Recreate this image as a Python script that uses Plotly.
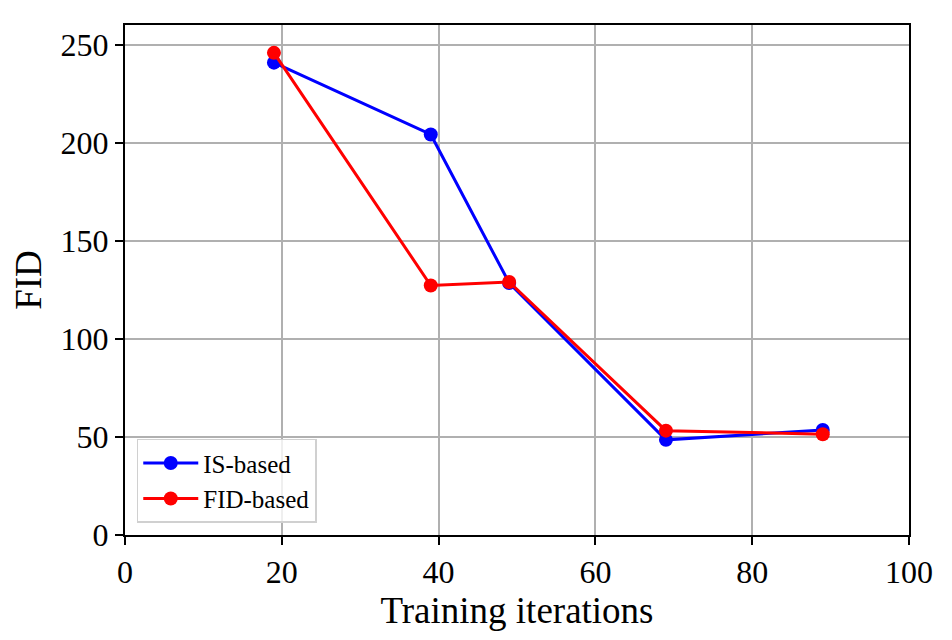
import plotly.graph_objects as go

iters = [19, 39, 49, 69, 89]
is_based = [240.8, 204.2, 128.5, 48.5, 53.5]
fid_based = [245.8, 127.2, 129.0, 53.2, 51.4]

font = "Liberation Serif"

fig = go.Figure()
fig.add_trace(go.Scatter(x=iters, y=is_based, name="IS-based", mode="lines+markers",
                         line=dict(color="blue", width=3), marker=dict(size=14, color="blue")))
fig.add_trace(go.Scatter(x=iters, y=fid_based, name="FID-based", mode="lines+markers",
                         line=dict(color="red", width=3), marker=dict(size=14, color="red")))

axis_style = dict(showline=True, linecolor="black", linewidth=2, mirror=True,
                  ticks="outside", ticklen=8, tickwidth=2, tickcolor="black",
                  showgrid=True, gridcolor="#b0b0b0", gridwidth=1.5, zeroline=False,
                  tickfont=dict(family=font, size=32, color="black"))

fig.update_xaxes(range=[0, 100], dtick=20,
                 title=dict(text="Training iterations", font=dict(family=font, size=37, color="black"),
                            standoff=0),
                 **axis_style)
fig.update_yaxes(range=[0, 260], tickvals=[0, 50, 100, 150, 200, 250],
                 title=dict(text="FID", font=dict(family=font, size=37, color="black"), standoff=10),
                 **axis_style)

# page body has an 8px margin, so shift the plot area up/left to compensate
fig.update_layout(
    width=952, height=640,
    margin=dict(l=117, r=51, t=17, b=113),
    plot_bgcolor="white", paper_bgcolor="white",
    font=dict(family=font, color="black"),
    legend=dict(x=0.015, y=0.024, xanchor="left", yanchor="bottom",
                bgcolor="rgba(255,255,255,0.8)", bordercolor="#d0d0d0", borderwidth=1.5,
                tracegroupgap=0, itemwidth=55,
                font=dict(family=font, size=25, color="black")),
)

fig.write_html("out.html")
